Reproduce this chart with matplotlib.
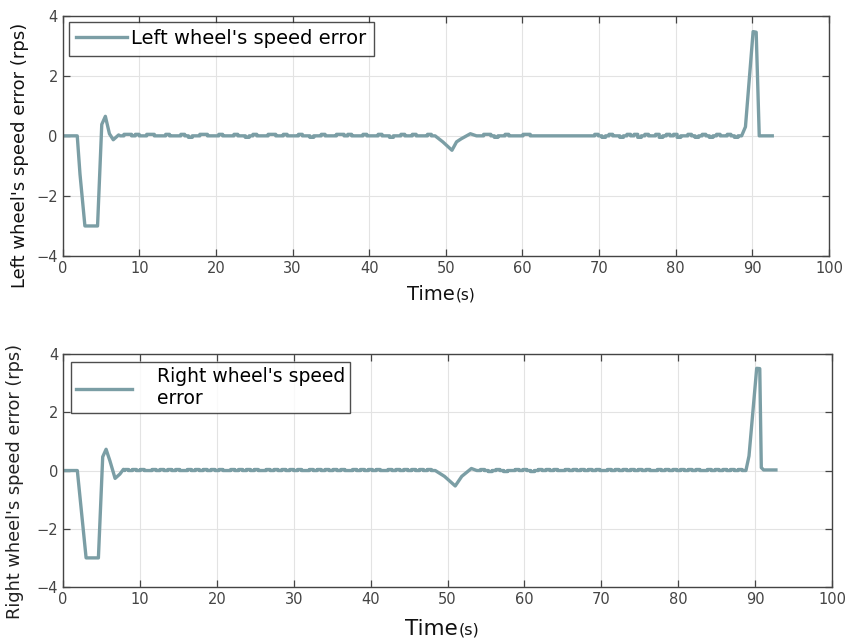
import numpy as np
import matplotlib
matplotlib.use('Agg')
import matplotlib.pyplot as plt

# --- data ----------------------------------------------------------------
# main transients (time s, error rps), linear between points
left_start_t = [0, 1.9, 2.26, 2.9, 4.55, 5.1, 5.57, 6.1, 6.6, 7.3, 7.5]
left_start_v = [0, 0, -1.28, -3.0, -3.0, 0.38, 0.65, 0.07, -0.13, 0.03, 0.0]
left_mid_t = [48.6, 49.6, 50.8, 51.4, 52.0, 53.2, 54.0]
left_mid_v = [0.0, -0.2, -0.48, -0.2, -0.1, 0.07, 0.0]
left_end_t = [88.6, 89.1, 90.1, 90.5, 90.9, 92.6]
left_end_v = [0.0, 0.3, 3.47, 3.45, 0.0, 0.0]

right_start_t = [0, 1.86, 3.0, 4.6, 5.16, 5.6, 6.1, 6.77, 7.4, 7.85, 8.0]
right_start_v = [0, 0, -3.0, -3.0, 0.47, 0.73, 0.33, -0.27, -0.12, 0.04, 0.0]
right_mid_t = [48.4, 49.6, 51.0, 51.85, 53.1, 53.8]
right_mid_v = [0.0, -0.2, -0.53, -0.2, 0.07, 0.0]
right_end_t = [88.8, 89.2, 90.2, 90.6, 90.8, 91.1, 92.7]
right_end_v = [0.0, 0.5, 3.51, 3.5, 0.1, 0.02, 0.02]

# quantisation ripple on the flat parts: '+' / '-' = one step up / down
left_flat1 = (7.5, 48.6, "0++0+00++000+000+0-00++000+000+00-0+000++00+000+00-00+000++0+000+000+00-00+00+000+0")
left_flat2 = (54.0, 88.6, "00++0-00+0000++000000000000000000+0-0+00-0+0+-0+00+-0+0+-00+0-0+0-0+00+0-0")
right_flat1 = (8.0, 48.4, "+0+0+00+0+0+0+00+0+0+0+0+00+0+0+0+00+0+0+0+0+00+0+0+0+0+00+0+0+0+00+0+0+0+0+0+0")
right_flat2 = (53.8, 88.8, "0+0-0+0-00+0+0-0+0+0+00+0+0+0+0+00+0+0+0+0+0+00+0+0+0+0+0+00+0+0+0+0+0")
left_ripple = 0.05
right_ripple = 0.035

line_color = '#7B9EA5'


def steps(seg, amp):
    t0, t1, code = seg
    edges = np.linspace(t0, t1, len(code) + 1)
    lev = {'0': 0.0, '+': amp, '-': -amp}
    tt, vv = [], []
    for i, c in enumerate(code):
        tt += [edges[i], edges[i + 1]]
        vv += [lev[c], lev[c]]
    return tt, vv


def build(a_t, a_v, f1, b_t, b_v, f2, c_t, c_v, amp):
    t1, v1 = steps(f1, amp)
    t2, v2 = steps(f2, amp)
    t = list(a_t) + t1 + list(b_t) + t2 + list(c_t)
    v = list(a_v) + v1 + list(b_v) + v2 + list(c_v)
    return np.array(t), np.array(v)


lt, lv = build(left_start_t, left_start_v, left_flat1, left_mid_t, left_mid_v,
               left_flat2, left_end_t, left_end_v, left_ripple)
rt, rv = build(right_start_t, right_start_v, right_flat1, right_mid_t, right_mid_v,
               right_flat2, right_end_t, right_end_v, right_ripple)

fig = plt.figure(figsize=(8.54, 6.4), dpi=100)
ax1 = fig.add_axes([0.0734, 0.600, 0.8973, 0.3755])
ax2 = fig.add_axes([0.0738, 0.0828, 0.9005, 0.364])


def style(ax):
    ax.set_xlim(0, 100)
    ax.set_ylim(-4, 4)
    ax.set_xticks(range(0, 101, 10))
    ax.set_yticks([-4, -2, 0, 2, 4])
    ax.grid(True, color='#e3e3e3', linewidth=0.8)
    ax.set_axisbelow(True)
    ax.tick_params(direction='in', top=True, right=True, length=5,
                   colors='#444444', labelsize=10.5, width=0.9)
    for sp in ax.spines.values():
        sp.set_color('#444444')
        sp.set_linewidth(1.0)


style(ax1)
ax1.plot(lt, lv, color=line_color, linewidth=2.4, label="Left wheel's speed error")
leg = ax1.legend(loc='upper left', fontsize=14, frameon=True, fancybox=False,
                 borderaxespad=0.3, handlelength=2.6, handletextpad=0.2,
                 borderpad=0.4)
leg.get_frame().set_edgecolor('#222222')
leg.get_frame().set_linewidth(1.0)

style(ax2)
ax2.plot(rt, rv, color=line_color, linewidth=2.4, label="Right wheel's speed\nerror")
leg = ax2.legend(loc='upper left', fontsize=13.5, frameon=True, fancybox=False,
                 borderaxespad=0.45, handlelength=3.0, handletextpad=1.3,
                 borderpad=0.25, labelspacing=0.1)
leg.get_frame().set_edgecolor('#222222')
leg.get_frame().set_linewidth(1.0)

# axis labels
fig.text(0.023, 0.758, "Left wheel's speed error (rps)", rotation=90,
         ha='center', va='center', fontsize=13, color='#111111')
fig.text(0.017, 0.247, "Right wheel's speed error (rps)", rotation=90,
         ha='center', va='center', fontsize=12.8, color='#222222')

fig.text(0.533, 0.532, "Time", ha='right', va='baseline', fontsize=14, color='#111111')
fig.text(0.534, 0.532, "(s)", ha='left', va='baseline', fontsize=11, color='#111111')
fig.text(0.536, 0.008, "Time", ha='right', va='baseline', fontsize=15.5, color='#111111')
fig.text(0.537, 0.008, "(s)", ha='left', va='baseline', fontsize=11.5, color='#111111')

fig.savefig('out.png', dpi=100)
